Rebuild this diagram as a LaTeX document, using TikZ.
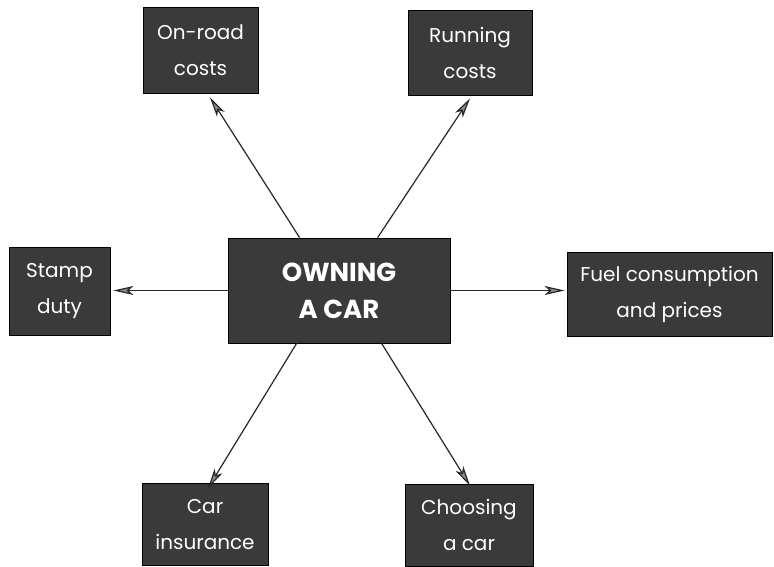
\documentclass[tikz,border=0pt]{standalone}
\usepackage{fontspec}
\setmainfont{Poppins}
\usetikzlibrary{arrows.meta,calc}
\definecolor{boxgray}{RGB}{58,58,58}
\begin{document}
\begin{tikzpicture}[x=1pt,y=-1pt,
  topic/.style={draw=black,line width=0.8pt,fill=boxgray,text=white,inner sep=0pt,
    align=center,font=\fontsize{20}{36}\selectfont},
  mainbox/.style={topic,font=\fontsize{26}{37}\selectfont\bfseries},
  arr/.style={draw=black!85,line width=1.2pt,
    -{Stealth[length=20pt,width=9pt,inset=5pt,fill=black!45]}}]
\useasboundingbox (0,0) rectangle (774,566);
\node[topic,minimum width=115pt,minimum height=86pt] (onroad) at (200.5,50) {On-road\\costs};
\node[topic,minimum width=124pt,minimum height=85pt] (running) at (470,52.5) {Running\\costs};
\node[topic,minimum width=101pt,minimum height=88pt] (stamp) at (59.5,291) {Stamp\\duty};
\node[mainbox,minimum width=222pt,minimum height=105pt] (own) at (339,290.5) {OWNING\\A CAR};
\node[topic,minimum width=205pt,minimum height=84pt] (fuel) at (669.5,294) {Fuel consumption\\and prices};
\node[topic,minimum width=126pt,minimum height=82pt] (carins) at (205,524.5) {Car\\insurance};
\node[topic,minimum width=128pt,minimum height=82pt] (choose) at (469,525) {Choosing\\a car};
\draw[arr] ([xshift=72pt]own.north west) -- ([xshift=9.5pt,yshift=-4pt]onroad.south);
\draw[arr] ([xshift=150pt]own.north west) -- ([yshift=-3pt]running.south);
\draw[arr] (own.west) -- ([xshift=3pt]stamp.east |- own.west);
\draw[arr] (own.east) -- ([xshift=-2pt]fuel.west |- own.east);
\draw[arr] ([xshift=69pt]own.south west) -- ([xshift=3pt,yshift=-5pt]carins.north);
\draw[arr] ([xshift=154pt]own.south west) -- ([xshift=1pt,yshift=-2pt]choose.north);
\end{tikzpicture}
\end{document}
